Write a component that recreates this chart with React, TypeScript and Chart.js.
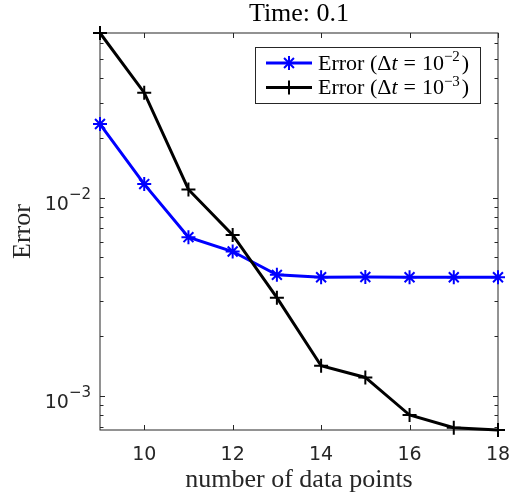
import React, { useEffect, useRef } from 'react';
import { Chart, registerables } from 'chart.js';

Chart.register(...registerables);

// ---- data ----
const dataPoints = [9, 10, 11, 12, 13, 14, 15, 16, 17, 18];
const errorDt1e2 = [0.0235, 0.0117, 0.00632, 0.00535, 0.00408, 0.00397, 0.00398, 0.00397, 0.00397, 0.00397];
const errorDt1e3 = [0.0676, 0.0338, 0.011, 0.00649, 0.00313, 0.00142, 0.00124, 0.000802, 0.000692, 0.000674];

const xTickValues = [10, 12, 14, 16, 18];
const xTickLabels = ['10', '12', '14', '16', '18'];
const yTickValues = [1e-3, 1e-2];
const yTickBase = ['10', '10'];
const yTickExp = ['−3', '−2'];
const yMinorValues = [7e-4, 8e-4, 9e-4, 2e-3, 3e-3, 4e-3, 5e-3, 6e-3, 7e-3, 8e-3, 9e-3, 2e-2, 3e-2, 4e-2, 5e-2, 6e-2];

const seriesNames = ['Error (Δt = 10^{-2})', 'Error (Δt = 10^{-3})'];
const legendExp = ['−2', '−3'];
const titleText = 'Time: 0.1';
const xTitle = 'number of data points';
const yTitle = 'Error';

const AXIS = '#262626';
const SERIF = '"Liberation Serif", "Times New Roman", serif';
const SANS = '"DejaVu Sans", sans-serif';

function drawMarker(ctx: CanvasRenderingContext2D, style: string, x: number, y: number, r: number) {
  ctx.beginPath();
  ctx.moveTo(x - r, y);
  ctx.lineTo(x + r, y);
  ctx.moveTo(x, y - r);
  ctx.lineTo(x, y + r);
  if (style === 'star') {
    const d = r * Math.SQRT1_2;
    ctx.moveTo(x - d, y - d);
    ctx.lineTo(x + d, y + d);
    ctx.moveTo(x - d, y + d);
    ctx.lineTo(x + d, y - d);
  }
  ctx.stroke();
}

const decorPlugin = {
  id: 'matlabDecor',
  beforeDatasetsDraw(chart: any) {
    const { ctx, chartArea: a, scales } = chart;
    const xs = scales.x;
    const ys = scales.y;
    ctx.save();
    ctx.strokeStyle = AXIS;
    ctx.lineWidth = 1;
    // box
    ctx.strokeRect(a.left, a.top, a.right - a.left, a.bottom - a.top);
    // x ticks inward, bottom and top
    ctx.beginPath();
    xTickValues.forEach((v) => {
      const px = Math.round(xs.getPixelForValue(v)) + 0.5;
      ctx.moveTo(px, a.bottom);
      ctx.lineTo(px, a.bottom - 5);
      ctx.moveTo(px, a.top);
      ctx.lineTo(px, a.top + 5);
    });
    // y major ticks
    yTickValues.forEach((v) => {
      const py = Math.round(ys.getPixelForValue(v)) + 0.5;
      ctx.moveTo(a.left, py);
      ctx.lineTo(a.left + 5, py);
      ctx.moveTo(a.right, py);
      ctx.lineTo(a.right - 5, py);
    });
    yMinorValues.forEach((v) => {
      const py = Math.round(ys.getPixelForValue(v)) + 0.5;
      ctx.moveTo(a.left, py);
      ctx.lineTo(a.left + 3.5, py);
      ctx.moveTo(a.right, py);
      ctx.lineTo(a.right - 3.5, py);
    });
    ctx.stroke();

    // x tick labels
    ctx.fillStyle = AXIS;
    ctx.textBaseline = 'alphabetic';
    ctx.textAlign = 'center';
    ctx.font = `19px ${SANS}`;
    xTickValues.forEach((v, i) => {
      ctx.fillText(xTickLabels[i], xs.getPixelForValue(v), 460);
    });

    // y tick labels (10 with superscript exponent)
    yTickValues.forEach((v, i) => {
      const py = ys.getPixelForValue(v);
      ctx.font = `15px ${SANS}`;
      const expW = ctx.measureText(yTickExp[i]).width;
      ctx.font = `19px ${SANS}`;
      const baseW = ctx.measureText(yTickBase[i]).width;
      const right = a.left - 9;
      ctx.textAlign = 'left';
      ctx.fillText(yTickBase[i], right - expW - baseW, py + 12);
      ctx.font = `15px ${SANS}`;
      ctx.fillText(yTickExp[i], right - expW, py + 1);
    });

    // title
    ctx.fillStyle = '#000';
    ctx.font = `26px ${SERIF}`;
    ctx.textAlign = 'center';
    ctx.fillText(titleText, (a.left + a.right) / 2, 21);

    // x axis title
    ctx.fillStyle = AXIS;
    ctx.fillText(xTitle, (a.left + a.right) / 2, 487);

    // y axis title
    ctx.save();
    ctx.translate(30, (a.top + a.bottom) / 2);
    ctx.rotate(-Math.PI / 2);
    ctx.fillText(yTitle, 0, 0);
    ctx.restore();
    ctx.restore();
  },
  afterDatasetsDraw(chart: any) {
    const { ctx } = chart;
    ctx.save();
    // legend box
    const bx = 255.5, by = 47.5, bw = 225, bh = 56;
    ctx.fillStyle = '#fff';
    ctx.fillRect(bx, by, bw, bh);
    ctx.strokeStyle = AXIS;
    ctx.lineWidth = 1;
    ctx.strokeRect(bx, by, bw, bh);

    const rows = [63, 87.5];
    chart.data.datasets.forEach((ds: any, i: number) => {
      const y = rows[i];
      ctx.strokeStyle = ds.borderColor;
      ctx.lineWidth = 3;
      ctx.beginPath();
      ctx.moveTo(266, y);
      ctx.lineTo(312, y);
      ctx.stroke();
      ctx.lineWidth = 2;
      drawMarker(ctx, ds.pointStyle, 289, y, 7);

      // rich text: Error (Δt = 10^{exp})
      const baseY = y + 6.5;
      let x = 318;
      ctx.fillStyle = '#000';
      ctx.textAlign = 'left';
      ctx.textBaseline = 'alphabetic';
      const put = (t: string, font: string, dy = 0) => {
        ctx.font = font;
        ctx.fillText(t, x, baseY + dy);
        x += ctx.measureText(t).width;
      };
      const n = `22px ${SERIF}`;
      put('Error (Δ', n);
      put('t', `italic 22px ${SERIF}`);
      x += 6;
      put('=', n);
      x += 6;
      put('10', n);
      put(legendExp[i], `15px ${SERIF}`, -8.5);
      x += 2;
      put(')', n);
    });
    ctx.restore();
  },
};

export default function App() {
  const canvasRef = useRef<HTMLCanvasElement | null>(null);

  useEffect(() => {
    const canvas = canvasRef.current;
    if (!canvas) return;
    const chart = new Chart(canvas, {
      type: 'line',
      data: {
        datasets: [
          {
            label: seriesNames[0],
            data: dataPoints.map((x, i) => ({ x, y: errorDt1e2[i] })),
            borderColor: '#0000ff',
            backgroundColor: '#0000ff',
            borderWidth: 3,
            pointStyle: 'star',
            pointRadius: 7,
            pointBorderWidth: 2,
            pointBorderColor: '#0000ff',
            pointBackgroundColor: '#0000ff',
            tension: 0,
            clip: false as any,
            order: 1,
          },
          {
            label: seriesNames[1],
            data: dataPoints.map((x, i) => ({ x, y: errorDt1e3[i] })),
            borderColor: '#000000',
            backgroundColor: '#000000',
            borderWidth: 3,
            pointStyle: 'cross',
            pointRadius: 7,
            pointBorderWidth: 2,
            pointBorderColor: '#000000',
            pointBackgroundColor: '#000000',
            tension: 0,
            clip: false as any,
            order: 0,
          },
        ],
      },
      options: {
        responsive: false,
        animation: false,
        layout: { padding: { top: 33, right: 15, left: 0, bottom: 0 } },
        plugins: {
          legend: { display: false },
          tooltip: { enabled: false },
          title: { display: false },
        },
        scales: {
          x: {
            type: 'linear',
            min: 9,
            max: 18,
            afterBuildTicks: (s: any) => {
              s.ticks = xTickValues.map((v) => ({ value: v }));
            },
            afterFit: (s: any) => {
              s.height = 63;
            },
            grid: { display: false, drawTicks: false },
            border: { display: false },
            ticks: { display: false },
          },
          y: {
            type: 'logarithmic',
            min: 0.000674,
            max: 0.0676,
            afterBuildTicks: (s: any) => {
              s.ticks = yTickValues.map((v) => ({ value: v }));
            },
            afterFit: (s: any) => {
              s.width = 100;
            },
            grid: { display: false, drawTicks: false },
            border: { display: false },
            ticks: { display: false },
          },
        },
      },
      plugins: [decorPlugin],
    } as any);
    return () => chart.destroy();
  }, []);

  return (
    <div style={{ position: 'absolute', left: 0, top: 0, width: 513, height: 493, background: '#fff' }}>
      <canvas ref={canvasRef} width={513} height={493} style={{ width: 513, height: 493, display: 'block' }} />
    </div>
  );
}
